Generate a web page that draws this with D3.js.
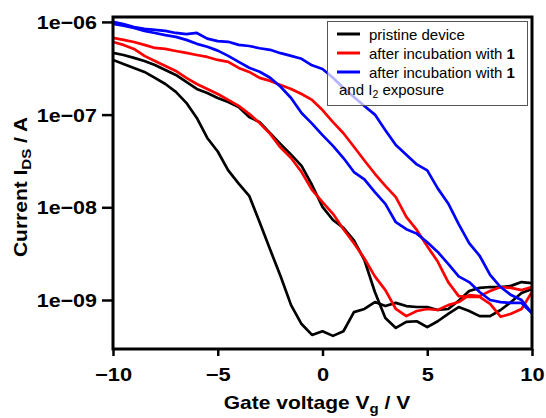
<!DOCTYPE html>
<html>
<head>
<meta charset="utf-8">
<script src="https://cdn.jsdelivr.net/npm/d3@7"></script>
<style>
  body { margin: 0; background: #fff; }
  svg { display: block; font-family: "Liberation Sans", Arial, sans-serif; }
</style>
</head>
<body>
<svg id="chart" width="546" height="418"></svg>
<script>
// gate sweep points (V)
const gateVoltage = [-10, -9.5, -9, -8.5, -8, -7.5, -7, -6.5, -6, -5.5, -5, -4.5, -4, -3.5, -3, -2.5, -2, -1.5, -1, -0.5,
  0, 0.5, 1, 1.5, 2, 2.5, 3, 3.5, 4, 4.5, 5, 5.5, 6, 6.5, 7, 7.5, 8, 8.5, 9, 9.5, 10];

// drain current I_DS (A), two sweeps per device state
const pristineFwd = [3.89e-7, 3.52e-7, 3.19e-7, 2.89e-7, 2.49e-7, 2.14e-7, 1.76e-7, 1.34e-7, 9.2e-8, 5.6e-8, 4.0e-8,
  2.5e-8, 1.8e-8, 1.33e-8, 6.9e-9, 3.5e-9, 1.8e-9, 8.8e-10, 5.5e-10, 4.2e-10, 4.6e-10, 4.1e-10, 4.6e-10, 7.4e-10,
  8.0e-10, 9.5e-10, 8.6e-10, 9.3e-10, 8.6e-10, 8.4e-10, 8.4e-10, 7.8e-10, 8.0e-10, 9.8e-10, 1.25e-9, 1.35e-9,
  1.38e-9, 1.38e-9, 1.42e-9, 1.56e-9, 1.52e-9];
const pristineRev = [4.63e-7, 4.40e-7, 4.09e-7, 3.79e-7, 3.43e-7, 3.03e-7, 2.68e-7, 2.25e-7, 1.89e-7, 1.71e-7, 1.51e-7,
  1.37e-7, 1.21e-7, 9.4e-8, 8.3e-8, 6.3e-8, 4.8e-8, 3.7e-8, 2.8e-8, 1.74e-8, 1.01e-8, 7.3e-9, 6.0e-9, 4.4e-9, 2.7e-9,
  1.22e-9, 6.4e-10, 5.0e-10, 5.8e-10, 5.9e-10, 5.1e-10, 5.9e-10, 7.1e-10, 8.4e-10, 7.6e-10, 6.7e-10, 6.7e-10,
  7.8e-10, 9.5e-10, 1.19e-9, 1.31e-9];
const incubatedFwd = [6.08e-7, 5.65e-7, 5.11e-7, 4.30e-7, 3.79e-7, 3.35e-7, 2.96e-7, 2.49e-7, 2.14e-7, 1.89e-7, 1.67e-7,
  1.44e-7, 1.24e-7, 1.02e-7, 8.1e-8, 6.2e-8, 4.4e-8, 3.4e-8, 2.4e-8, 1.54e-8, 1.14e-8, 8.5e-9, 5.8e-9, 4.1e-9, 2.8e-9,
  1.8e-9, 1.28e-9, 8.0e-10, 6.7e-10, 7.6e-10, 8.0e-10, 7.8e-10, 8.8e-10, 9.5e-10, 1.13e-9, 1.10e-9, 1.25e-9, 1.38e-9,
  1.35e-9, 1.28e-9, 1.38e-9];
const incubatedRev = [6.72e-7, 6.40e-7, 6.08e-7, 5.65e-7, 5.24e-7, 5.11e-7, 4.86e-7, 4.63e-7, 4.40e-7, 4.19e-7, 3.89e-7,
  3.70e-7, 3.19e-7, 2.89e-7, 2.49e-7, 2.31e-7, 2.09e-7, 1.89e-7, 1.67e-7, 1.44e-7, 1.12e-7, 8.3e-8, 6.3e-8, 4.5e-8,
  3.2e-8, 2.3e-8, 1.7e-8, 1.29e-8, 7.9e-9, 5.7e-9, 3.8e-9, 2.6e-9, 1.56e-9, 1.10e-9, 1.08e-9, 1.08e-9, 9.1e-10,
  6.6e-10, 7.1e-10, 8.0e-10, 1.22e-9];
const iodineFwd = [9.5e-7, 9.1e-7, 8.6e-7, 8.0e-7, 7.6e-7, 7.2e-7, 6.9e-7, 6.4e-7, 5.8e-7, 5.4e-7, 4.9e-7, 4.3e-7,
  3.7e-7, 3.2e-7, 2.9e-7, 2.5e-7, 2.0e-7, 1.51e-7, 1.04e-7, 8.0e-8, 6.0e-8, 4.6e-8, 3.4e-8, 2.4e-8, 2.0e-8, 1.46e-8,
  1.09e-8, 6.9e-9, 5.8e-9, 5.2e-9, 4.2e-9, 3.3e-9, 2.45e-9, 1.8e-9, 1.56e-9, 1.22e-9, 1.0e-9, 9.5e-10, 9.3e-10,
  9.3e-10, 7.2e-10];
const iodineRev = [1.0e-6, 9.5e-7, 8.8e-7, 8.4e-7, 8.2e-7, 8.0e-7, 7.6e-7, 7.4e-7, 7.6e-7, 6.6e-7, 6.2e-7, 6.1e-7,
  5.65e-7, 5.5e-7, 5.2e-7, 5.0e-7, 4.6e-7, 4.3e-7, 4.0e-7, 3.4e-7, 3.1e-7, 2.5e-7, 1.94e-7, 1.55e-7, 1.24e-7, 1.0e-7,
  6.8e-8, 4.7e-8, 3.7e-8, 2.9e-8, 2.5e-8, 1.6e-8, 1.1e-8, 6.6e-9, 4.1e-9, 3.0e-9, 1.87e-9, 1.38e-9, 1.13e-9, 1.0e-9,
  7.2e-10];

const xTicks = [-10, -5, 0, 5, 10];
const yTicks = [1e-9, 1e-8, 1e-7, 1e-6];
const yTickLabels = ["1e\u221209", "1e\u221208", "1e\u221207", "1e\u221206"];
const legendLabels = ["pristine device", "after incubation with ", "after incubation with "];
const seriesColors = ["#000000", "#ff0000", "#0000ff"];

const width = 546, height = 418;
const margin = { top: 17, right: 14, bottom: 69, left: 113 };
const width_draw = width - margin.left - margin.right;
const height_draw = height - margin.top - margin.bottom;

const svg = d3.select("#chart");
const focus = svg.append("g").attr("id", "focus")
  .attr("transform", `translate(${margin.left},${margin.top})`);

const xScale = d3.scaleLinear().domain([-10, 10]).range([0, width_draw]);
const yScale = d3.scaleLog().domain([2.96e-10, 1.13e-6]).range([height_draw, 0]);

// minor ticks: every volt on x, 2/4/6/8 on each decade
let xMinor = d3.range(-10, 11, 1).filter(v => xTicks.indexOf(v) < 0);
let yMinor = [];
[1e-10, 1e-9, 1e-8, 1e-7].forEach(dec => [2, 4, 6, 8].forEach(m => {
  let v = m * dec;
  if (v > yScale.domain()[0] && v < yScale.domain()[1]) yMinor.push(v);
}));

focus.append("clipPath").attr("id", "clip")
  .append("rect").attr("width", width_draw).attr("height", height_draw);

// curves
let curves = [
  { values: pristineFwd, color: seriesColors[0] },
  { values: pristineRev, color: seriesColors[0] },
  { values: incubatedFwd, color: seriesColors[1] },
  { values: incubatedRev, color: seriesColors[1] },
  { values: iodineFwd, color: seriesColors[2] },
  { values: iodineRev, color: seriesColors[2] },
];

let line = d3.line()
  .x((d, i) => xScale(gateVoltage[i]))
  .y(d => yScale(d));

focus.append("g").attr("clip-path", "url(#clip)")
  .selectAll("path")
  .data(curves)
  .join("path")
  .attr("d", d => line(d.values))
  .attr("fill", "none")
  .attr("stroke", d => d.color)
  .attr("stroke-width", 2.7)
  .attr("stroke-linejoin", "round");

// x axis
function rendorXAxis() {
  let gx = focus.append("g").attr("id", "axis-x")
    .attr("transform", `translate(0,${height_draw})`);
  gx.call(d3.axisBottom(xScale).tickValues(xMinor).tickSize(7).tickFormat(""));
  gx.call(d3.axisBottom(xScale).tickValues(xTicks).tickSize(7));
  gx.selectAll(".domain").remove();
  gx.selectAll("line").attr("stroke-width", 2.5);
  gx.selectAll("text")
    .attr("y", 0).attr("dy", 0)
    .attr("transform", "translate(0,32) scale(1.15,1)")
    .attr("font-size", 19).attr("font-weight", "bold")
    .attr("font-family", "Liberation Sans, Arial, sans-serif")
    .attr("fill", "#000");
}

// y axis
function rendorYAxis() {
  let gy = focus.append("g").attr("id", "axis-y");
  gy.call(d3.axisLeft(yScale).tickValues(yMinor).tickSize(7).tickFormat(""));
  gy.call(d3.axisLeft(yScale).tickValues(yTicks).tickSize(11)
    .tickFormat((d, i) => yTickLabels[i]));
  gy.selectAll(".domain").remove();
  gy.selectAll("line").attr("stroke-width", 2.5);
  gy.selectAll("text")
    .attr("x", 0).attr("dy", "0.34em")
    .attr("transform", "translate(-16,0) scale(1.13,1)")
    .attr("font-size", 19).attr("font-weight", "bold")
    .attr("font-family", "Liberation Sans, Arial, sans-serif")
    .attr("fill", "#000");
}

rendorXAxis();
rendorYAxis();

// frame
focus.append("rect")
  .attr("width", width_draw).attr("height", height_draw)
  .attr("fill", "none").attr("stroke", "#000").attr("stroke-width", 3);

// axis titles
let xt = svg.append("text")
  .attr("transform", "translate(317,409) scale(1.2,1)")
  .attr("text-anchor", "middle").attr("font-size", 17.5).attr("font-weight", "bold");
xt.append("tspan").text("Gate voltage V");
xt.append("tspan").attr("font-size", 12.5).attr("dy", 4).text("g");
xt.append("tspan").attr("dy", -4).text(" / V");

let yt = svg.append("text")
  .attr("transform", "translate(27,187) rotate(-90) scale(1.2,1)")
  .attr("text-anchor", "middle").attr("font-size", 17.5).attr("font-weight", "bold");
yt.append("tspan").text("Current I");
yt.append("tspan").attr("font-size", 12.5).attr("dy", 4).text("DS");
yt.append("tspan").attr("dy", -4).text(" / A");

// legend
let legend = svg.append("g").attr("id", "legend");
legend.append("rect")
  .attr("x", 327.5).attr("y", 21.5).attr("width", 200).attr("height", 84)
  .attr("fill", "#fff").attr("fill-opacity", 0.7)
  .attr("stroke", "#555").attr("stroke-width", 1);

let rows = legend.selectAll("g.row").data(legendLabels).join("g")
  .attr("class", "row")
  .attr("transform", (d, i) => `translate(0,${34 + i * 19})`);
rows.append("line")
  .attr("x1", 337).attr("x2", 360)
  .attr("stroke", (d, i) => seriesColors[i]).attr("stroke-width", 3);
rows.append("text")
  .attr("x", 369).attr("y", 5.5)
  .attr("font-size", 15)
  .each(function (d, i) {
    let t = d3.select(this);
    t.append("tspan").text(d);
    if (i > 0) t.append("tspan").attr("font-weight", "bold").text("1");
  });

let last = legend.append("text").attr("x", 339).attr("y", 95).attr("font-size", 15);
last.append("tspan").text("and I");
last.append("tspan").attr("font-size", 10.5).attr("dy", 3).text("2");
last.append("tspan").attr("dy", -3).text(" exposure");
</script>
</body>
</html>
